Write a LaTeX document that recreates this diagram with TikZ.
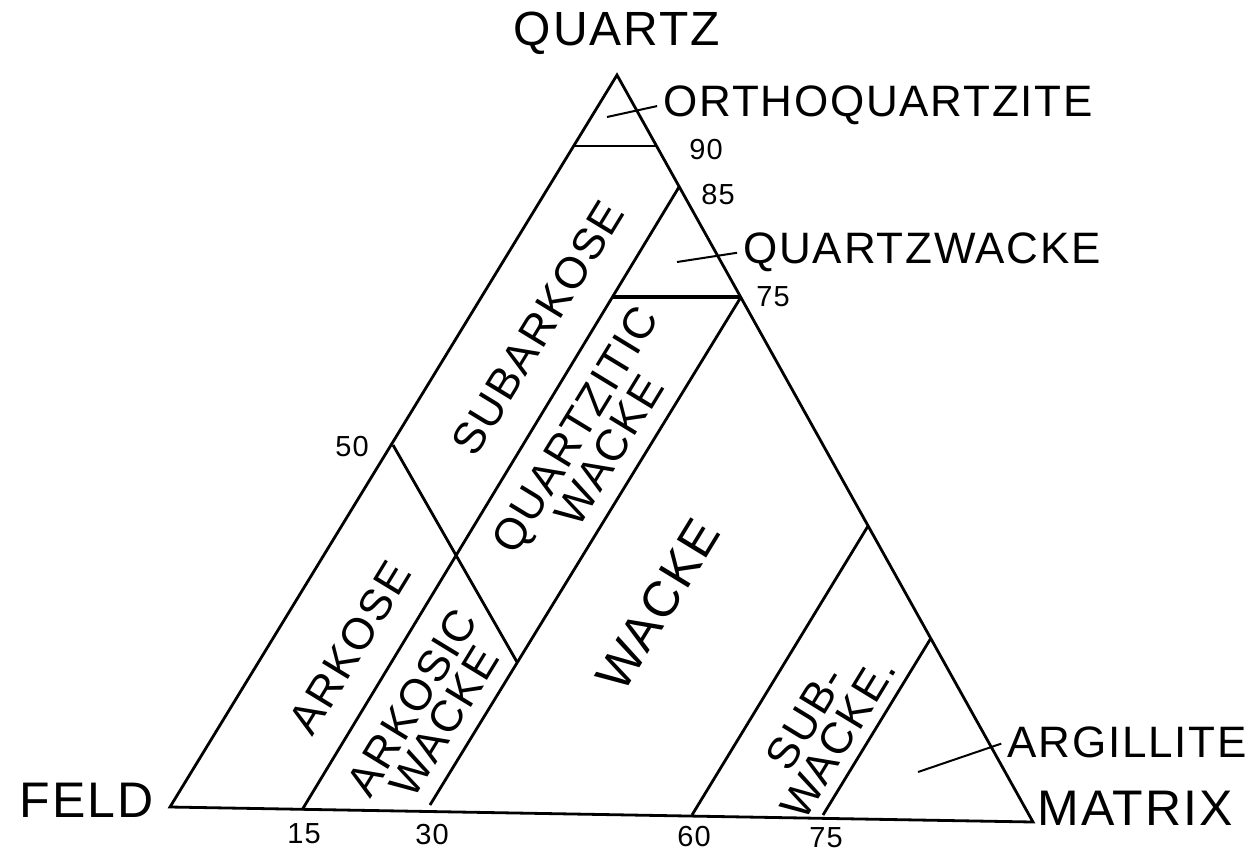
\documentclass[tikz,border=0pt]{standalone}
\usepackage{fontspec}
\setmainfont{Liberation Sans}[LetterSpace=4]
\usetikzlibrary{positioning}

\begin{document}
\begin{tikzpicture}[x=1pt,y=-1pt,line width=2.8pt,line join=miter, every node/.style={inner sep=0pt}, lab/.style={font=\fontsize{44}{44}\selectfont}, num/.style={font=\fontsize{29}{29}\selectfont}, zone/.style={font=\fontsize{44}{38}\selectfont,rotate=58.6,align=center}, lead/.style={line width=2pt,shorten >=5pt}]
\useasboundingbox (0,0) rectangle (1253,855);
\coordinate (F) at (170,807); \coordinate (Q) at (617,75); \coordinate (M) at (1033,822);
\coordinate (q90l) at (574,146); \coordinate (q90r) at (656,146);
\coordinate (b15) at (302,810); \coordinate (q85) at (679,187);
\coordinate (b30) at (430,805); \coordinate (q75) at (741,297); \coordinate (x75) at (612,297);
\coordinate (q50) at (393,445); \coordinate (x50) at (517,662);
\coordinate (b60) at (692,815); \coordinate (m60) at (868,526);
\coordinate (b75) at (823,815); \coordinate (m75) at (931,638);
\draw (F)--(Q)--(M)--cycle;
\draw (q90l)--(q90r); \draw (b15)--(q85); \draw (b30)--(q75); \draw[line width=3.6pt] (x75)--(q75);
\draw (q50)--(x50); \draw (b60)--(m60); \draw (b75)--(m75);
\node[lab,font=\fontsize{48}{48}\selectfont] (quartz) at (617,33) {QUARTZ};
\node[lab,font=\fontsize{50}{50}\selectfont,anchor=east] (feld) at (155,800) {FELD};
\node[lab,font=\fontsize{50}{50}\selectfont,anchor=west] (matrix) at (1036,808) {MATRIX};
\node[lab,anchor=west] (ortho) at (662,105) {ORTHOQUARTZITE};
\node[lab,anchor=west] (qwacke) at (742,252) {QUARTZWACKE};
\node[lab,anchor=west] (argil) at (1006,742) {ARGILLITE};
\coordinate (oq) at (607,117); \coordinate (qw) at (677,262); \coordinate (ar) at (918,772);
\draw[lead] (oq)--(ortho.west); \draw[lead] (qw)--(qwacke.west); \draw[lead] (ar)--(argil.west);
\node[num] (n90) at (706,150) {90}; \node[num] (n85) at (718,195) {85};
\node[num] (n75r) at (773,297) {75}; \node[num] (n50) at (352,447) {50};
\node[num] (n15) at (304,834) {15}; \node[num] (n30) at (432,835) {30};
\node[num] (n60) at (694,837) {60}; \node[num] (n75) at (826,838) {75};
\node[zone] (subark) at (538,328) {SUBARKOSE};
\node[zone] (quartzitic) at (592,440) {QUARTZITIC\\WACKE};
\node[zone,font=\fontsize{50}{50}\selectfont] (wacke) at (658,605) {WACKE};
\node[zone] (arkose) at (350,648) {ARKOSE};
\node[zone] (arkwacke) at (428,712) {ARKOSIC\\WACKE};
\node[zone] (subwacke) at (822,728) {SUB-\\WACKE.};
\end{tikzpicture}
\end{document}
